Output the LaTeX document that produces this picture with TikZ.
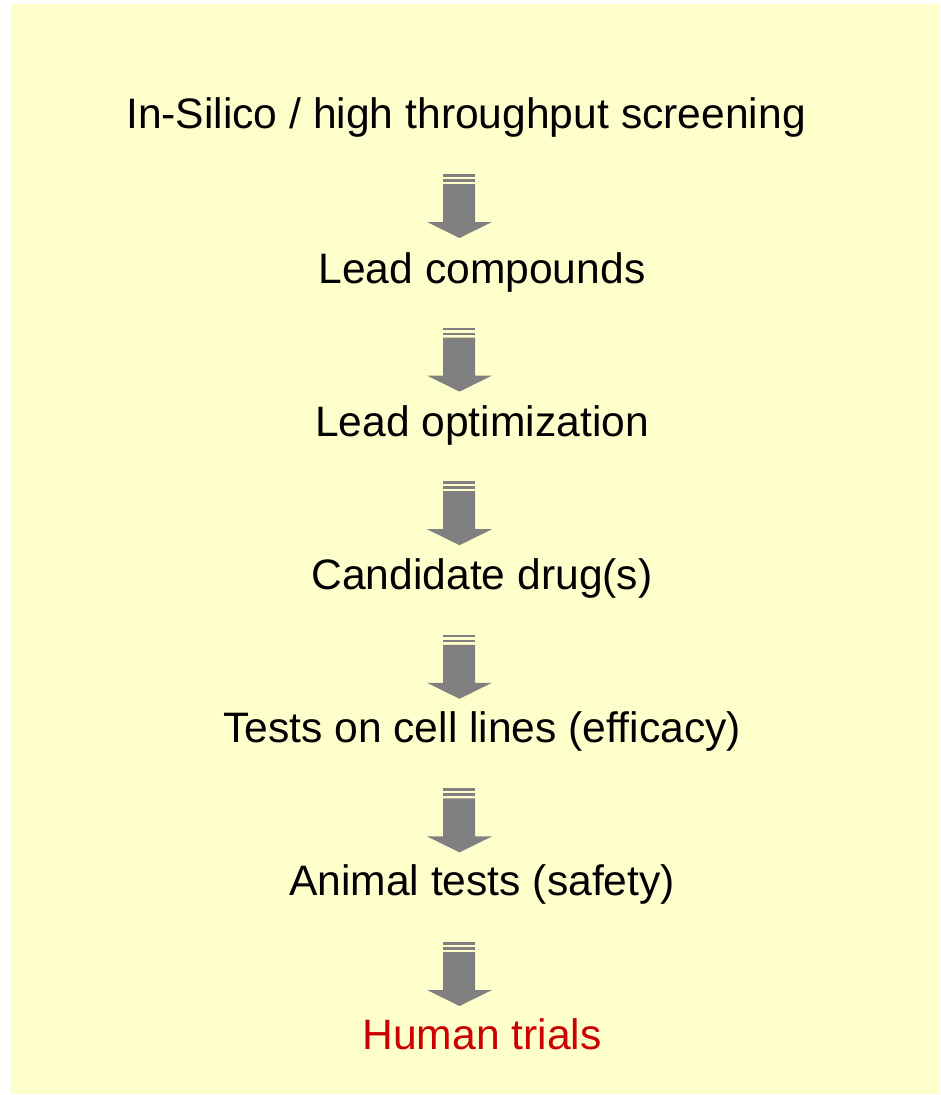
\documentclass[tikz,border=0pt]{standalone}
\usepackage{fontspec}
\setmainfont{Liberation Sans}
\definecolor{paleyellow}{HTML}{FFFFCC}
\definecolor{arrowgray}{HTML}{808080}
\definecolor{humanred}{HTML}{CC0000}
\tikzset{
  stage/.style={inner sep=0pt, anchor=base, font=\fontsize{42.6}{50}\selectfont},
  blockarrow/.style={fill=arrowgray, draw=none}
}
\begin{document}
\begin{tikzpicture}[x=1pt,y=-1pt]
\useasboundingbox (0,0) rectangle (940,1095);
% Background
\fill[paleyellow] (11,4) rectangle (940,1094);
% Stages
\node[stage] (screen) at (466,128) {In-Silico / high throughput screening};
\node[stage] (lead) at (482,283) {Lead compounds};
\node[stage] (optim) at (482,436) {Lead optimization};
\node[stage] (cand) at (482,589) {Candidate drug(s)};
\node[stage] (cells) at (482,742) {Tests on cell lines (efficacy)};
\node[stage] (animal) at (482,895) {Animal tests (safety)};
\node[stage, text=humanred] (human) at (482,1049) {Human trials};
% Arrows
\foreach \y in {174,327.6,481.2,634.8,788.4,942}{
  \fill[blockarrow] (443,\y) rectangle (475,\y+2.5);
  \fill[blockarrow] (443,\y+5) rectangle (475,\y+7.5);
  \fill[blockarrow] (443,\y+10) -- (475,\y+10) -- (475,\y+48) -- (492,\y+48)
    -- (459.5,\y+64) -- (427,\y+48) -- (443,\y+48) -- cycle;
}
\end{tikzpicture}
\end{document}
